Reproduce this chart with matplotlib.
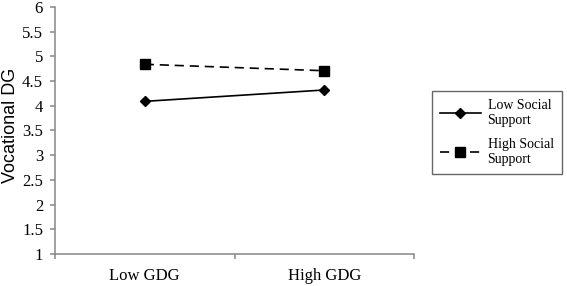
import matplotlib.pyplot as plt
from matplotlib.ticker import FixedLocator

# values
groups = ["Low GDG", "High GDG"]
low_support = [4.09, 4.32]
high_support = [4.84, 4.71]
y_ticks = [1, 1.5, 2, 2.5, 3, 3.5, 4, 4.5, 5, 5.5, 6]
y_labels = ["1", "1.5", "2", "2.5", "3", "3.5", "4", "4.5", "5", "5.5", "6"]

fig = plt.figure(figsize=(5.67, 2.86), dpi=100)
ax = fig.add_axes([55 / 567, 32 / 286, 359 / 567, 247 / 286])

x = [i + 0.5 for i in range(len(groups))]
ax.plot(x, low_support, color="black", lw=1.2, marker="D", ms=5.5,
        label="Low Social\nSupport")
ax.plot(x, high_support, color="black", lw=1.2, ls=(0, (5.5, 3.5)), marker="s", ms=6.5,
        label="High Social\nSupport")

ax.set_xlim(0, len(groups))
ax.set_ylim(1, 6)

# category ticks between groups, labels centred under groups
ax.xaxis.set_major_locator(FixedLocator(range(len(groups) + 1)))
ax.set_xticklabels([])
ax.xaxis.set_minor_locator(FixedLocator(x))
ax.set_xticklabels(groups, minor=True, family="Liberation Serif", fontsize=12)
ax.tick_params(axis="x", which="minor", length=0, pad=10)
ax.tick_params(axis="x", which="major", length=3.6, width=1.1, color="#868686", direction="out")

ax.set_yticks(y_ticks)
ax.set_yticklabels(y_labels, family="Liberation Serif", fontsize=12)
ax.tick_params(axis="y", length=3.6, width=1.1, color="#868686", pad=5)
ax.set_ylabel("Vocational DG", family="Liberation Sans", fontsize=13)
ax.yaxis.set_label_coords(-0.099, 0.52)

for side in ["top", "right"]:
    ax.spines[side].set_visible(False)
for side in ["left", "bottom"]:
    ax.spines[side].set_color("#868686")
    ax.spines[side].set_linewidth(1.1)

leg = fig.legend(loc="upper left", bbox_to_anchor=(432 / 567, 1 - 91 / 286),
                 prop={"family": "Liberation Serif", "size": 10},
                 frameon=True, fancybox=False, edgecolor="#404040",
                 handlelength=2.9, borderpad=0.6, labelspacing=0.75,
                 handletextpad=0.5, borderaxespad=0)
leg.get_frame().set_linewidth(1.0)

fig.savefig("out.png", dpi=100)
